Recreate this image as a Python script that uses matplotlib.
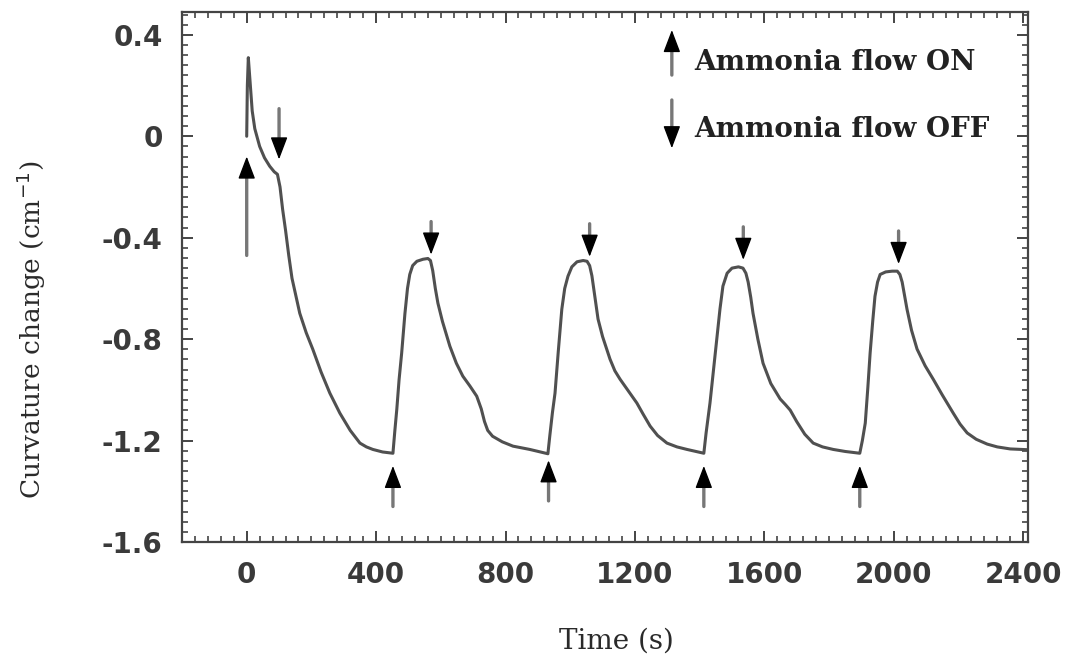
import numpy as np
import matplotlib
matplotlib.use("Agg")
import matplotlib.pyplot as plt
from matplotlib.ticker import MultipleLocator

# ---- data ----
time_s = [0, 2, 5, 10, 17, 25, 40, 55, 71, 85, 95, 103, 111, 120, 130, 140, 152, 164, 184, 204,
          230, 257, 288, 320, 350, 370, 390, 420, 452,
          458, 464, 471, 479, 489, 497, 504, 513, 526, 545, 560, 568, 575, 583, 591, 605, 628,
          648, 668, 690, 711, 725, 735, 745, 760, 790, 823, 875, 931,
          937, 945, 953, 963, 974, 983, 993, 1005, 1021, 1040, 1052, 1060, 1067, 1076, 1086,
          1100, 1123, 1138, 1154, 1180, 1206, 1225, 1247, 1270, 1299, 1330, 1361, 1413,
          1420, 1432, 1443, 1454, 1463, 1472, 1485, 1500, 1520, 1534, 1543, 1550, 1558, 1565,
          1580, 1596, 1620, 1649, 1665, 1680, 1700, 1725, 1751, 1780, 1813, 1850, 1895,
          1903, 1912, 1920, 1927, 1935, 1942, 1950, 1958, 1975, 1995, 2011, 2019, 2026, 2033,
          2041, 2055, 2072, 2097, 2122, 2150, 2184, 2205, 2227, 2255, 2289, 2320, 2360, 2413]
curvature = [0.0, 0.2, 0.31, 0.22, 0.1, 0.03, -0.04, -0.085, -0.118, -0.14, -0.15, -0.2, -0.288,
             -0.37, -0.47, -0.56, -0.63, -0.698, -0.775, -0.839, -0.93, -1.013, -1.092, -1.16,
             -1.21, -1.225, -1.235, -1.245, -1.25,
             -1.16, -1.076, -0.96, -0.855, -0.70, -0.60, -0.545, -0.51, -0.493, -0.485, -0.482,
             -0.49, -0.53, -0.60, -0.658, -0.73, -0.828, -0.895, -0.946, -0.985, -1.025, -1.075,
             -1.125, -1.16, -1.183, -1.205, -1.222, -1.235, -1.252,
             -1.18, -1.09, -1.013, -0.85, -0.682, -0.60, -0.552, -0.515, -0.495, -0.49, -0.493,
             -0.51, -0.55, -0.63, -0.721, -0.79, -0.879, -0.925, -0.958, -1.005, -1.052, -1.095,
             -1.143, -1.18, -1.21, -1.225, -1.235, -1.25,
             -1.17, -1.052, -0.92, -0.788, -0.68, -0.591, -0.54, -0.52, -0.515, -0.52, -0.54,
             -0.575, -0.635, -0.698, -0.80, -0.895, -0.975, -1.036, -1.058, -1.08, -1.125,
             -1.175, -1.21, -1.225, -1.235, -1.243, -1.25,
             -1.2, -1.131, -0.99, -0.855, -0.73, -0.631, -0.575, -0.545, -0.535, -0.532, -0.532,
             -0.545, -0.575, -0.625, -0.682, -0.765, -0.839, -0.905, -0.958, -1.02, -1.092,
             -1.135, -1.17, -1.195, -1.214, -1.225, -1.233, -1.236]

on_times = [0, 452, 933, 1413, 1895]
off_times = [100, 570, 1060, 1535, 2015]

x_ticks = [0, 400, 800, 1200, 1600, 2000, 2400]
y_ticks = [0.4, 0, -0.4, -0.8, -1.2, -1.6]
y_tick_labels = ["0.4", "0", "-0.4", "-0.8", "-1.2", "-1.6"]

legend_labels = ["Ammonia flow ON", "Ammonia flow OFF"]

# ---- figure ----
fig = plt.figure(figsize=(10.7, 6.59), dpi=100)
ax = fig.add_axes([182/1070, 1-542/659, 846/1070, 530/659])

line_color = "#505050"
ax.plot(time_s, curvature, color=line_color, lw=2.2, solid_joinstyle="round",
        solid_capstyle="round")

ax.set_xlim(-200, 2415)
ax.set_ylim(-1.6, 0.49)

tick_font = dict(family="DejaVu Sans", size=20, weight="bold", color="#3a3a3a")
ax.set_xticks(x_ticks)
ax.set_xticklabels([str(v) for v in x_ticks], **tick_font)
ax.set_yticks(y_ticks)
ax.set_yticklabels(y_tick_labels, **tick_font)
ax.xaxis.set_minor_locator(MultipleLocator(40))
ax.yaxis.set_minor_locator(MultipleLocator(0.04))
ax.tick_params(which="both", direction="in", top=True, right=True, color="#444444")
ax.tick_params(which="major", length=8, width=1.4, pad=14)
ax.tick_params(which="minor", length=4.5, width=1.2)
for s in ax.spines.values():
    s.set_linewidth(1.6)
    s.set_color("#444444")

ax.set_xlabel("Time (s)", family="DejaVu Serif", size=20, color="#2a2a2a")
ax.xaxis.set_label_coords(0.514, -0.162)
ax.set_ylabel("Curvature change (cm$^{-1}$)", family="DejaVu Serif", size=19,
              color="#2a2a2a")
ax.yaxis.set_label_coords(-0.158, 0.40)

# ---- event arrows: gray shaft + black head ----
def arrow(xy, xytext, coords="data"):
    ax.annotate("", xy=xy, xytext=xytext, xycoords=coords, textcoords=coords,
                arrowprops=dict(arrowstyle="-", color="#777777", lw=2.4,
                                shrinkA=0, shrinkB=8))
    direction = 1 if xytext[1] < xy[1] else -1
    ax.annotate("", xy=xy, xytext=(0, -direction * 15), xycoords=coords,
                textcoords="offset points",
                arrowprops=dict(arrowstyle="-|>,head_length=1.0,head_width=0.38",
                                mutation_scale=14, ec="black", fc="black", lw=1.0,
                                shrinkA=0, shrinkB=0))

on_gap = [0.08, 0.05, 0.05, 0.05, 0.05]
on_len = [0.39, 0.16, 0.16, 0.16, 0.16]
for t, g, L in zip(on_times, on_gap, on_len):
    yc = np.interp(t, time_s, curvature)
    tip = yc - g
    arrow((t, tip), (t, tip - L))

off_gap = [0.09, 0.035, 0.035, 0.035, 0.035]
off_len = [0.2, 0.13, 0.13, 0.13, 0.13]
for t, g, L in zip(off_times, off_gap, off_len):
    yc = np.interp(t, time_s, curvature)
    tip = yc + g
    arrow((t, tip), (t, tip + L))

# ---- legend ----
arrow((0.579, 0.966), (0.579, 0.881), coords="axes fraction")
arrow((0.579, 0.743), (0.579, 0.834), coords="axes fraction")
ax.text(0.605, 0.905, legend_labels[0], transform=ax.transAxes, va="center", ha="left",
        family="DejaVu Serif", weight="bold", size=20, color="#222222")
ax.text(0.605, 0.778, legend_labels[1], transform=ax.transAxes, va="center", ha="left",
        family="DejaVu Serif", weight="bold", size=20, color="#222222")

fig.savefig("out.png", dpi=100)
